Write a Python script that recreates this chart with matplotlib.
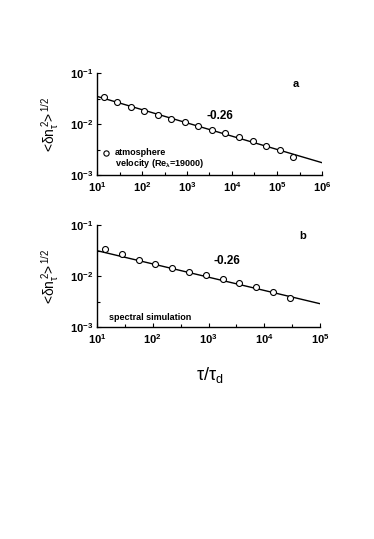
import numpy as np
import matplotlib
matplotlib.use("Agg")
import matplotlib.pyplot as plt
from matplotlib.ticker import FixedLocator, NullFormatter

plt.rcParams['font.family'] = ['Liberation Sans', 'DejaVu Sans']
plt.rcParams['mathtext.fontset'] = 'custom'
plt.rcParams['mathtext.rm'] = 'Liberation Sans'
plt.rcParams['mathtext.it'] = 'Liberation Sans'
plt.rcParams['mathtext.bf'] = 'Liberation Sans:bold'
plt.rcParams['mathtext.default'] = 'regular'
plt.rcParams['axes.unicode_minus'] = False

# Panel a: atmosphere data
xa = [14, 28, 56, 112, 224, 448, 896, 1792, 3584, 7168, 14336, 28672, 57344, 114688, 229376]
ya = [0.0338, 0.0266, 0.0215, 0.0177, 0.0148, 0.0125, 0.0108, 0.00914, 0.00775,
      0.00656, 0.00548, 0.00457, 0.00376, 0.00305, 0.00229]
# Panel b: spectral simulation
xb = [14, 28, 56, 112, 224, 448, 896, 1792, 3584, 7168, 14336, 28672]
yb = [0.0338, 0.0266, 0.0209, 0.0175, 0.0144, 0.0122, 0.0103, 0.00861, 0.00730,
      0.00600, 0.00493, 0.00371]
slope = -0.26
fit_a = (10, 1e6, 0.0348)   # x start, x end, y at start
fit_b = (10, 1e5, 0.0314)

fig = plt.figure(figsize=(3.74, 5.39), dpi=100)
W, H = 374, 539

def make_ax(px_left, px_right, px_top, px_bot):
    return fig.add_axes([px_left / W, 1 - px_bot / H, (px_right - px_left) / W, (px_bot - px_top) / H])

axa = make_ax(97, 322, 73, 175)
axb = make_ax(97, 320, 225, 327)

def style(ax, xmax_exp):
    ax.set_xscale('log')
    ax.set_yscale('log')
    ax.set_xlim(10, 10 ** xmax_exp)
    ax.set_ylim(1e-3, 1e-1)
    for s in ['top', 'right']:
        ax.spines[s].set_visible(False)
    for s in ['left', 'bottom']:
        ax.spines[s].set_linewidth(1.0)
    ax.xaxis.set_major_locator(FixedLocator([10.0 ** k for k in range(1, xmax_exp + 1)]))
    ax.xaxis.set_minor_locator(FixedLocator([10.0 ** (k + 0.5) for k in range(1, xmax_exp)]))
    ax.yaxis.set_major_locator(FixedLocator([1e-3, 1e-2, 1e-1]))
    ax.yaxis.set_minor_locator(FixedLocator([10 ** -2.5, 10 ** -1.5]))
    ax.xaxis.set_minor_formatter(NullFormatter())
    ax.yaxis.set_minor_formatter(NullFormatter())
    ax.tick_params(which='major', direction='in', length=3, width=0.8, labelsize=8)
    ax.tick_params(which='minor', direction='in', length=2, width=0.8)
    ax.tick_params(axis='y', pad=3)
    ax.tick_params(axis='x', pad=4)
    for lab in ax.get_xticklabels() + ax.get_yticklabels():
        lab.set_fontweight('bold')
    ax.set_ylabel(r'<$\delta$n$_\tau^{\,2}$>$^{\,1/2}$', fontsize=10)
    ax.yaxis.set_label_coords(-0.16, 0.5)

for ax, x, y, fit, xe in [(axa, xa, ya, fit_a, 6), (axb, xb, yb, fit_b, 5)]:
    style(ax, xe)
    xl = np.array([fit[0], fit[1]])
    ax.plot(xl, fit[2] * (xl / fit[0]) ** slope, color='black', lw=1.0, zorder=2)
    ax.plot(x, y, 'o', ms=4.3, mfc='white', mec='black', mew=0.8, zorder=3, clip_on=False)

axa.text(0.884, 0.89, 'a', transform=axa.transAxes, fontsize=8, fontweight='bold', ha='center', va='center')
axa.text(0.547, 0.578, '-0.26', transform=axa.transAxes, fontsize=8.5, fontweight='bold', ha='center', va='center')
axa.plot([0.042], [0.216], 'o', transform=axa.transAxes, ms=3.8, mfc='white', mec='black', mew=0.8)
axa.text(0.08, 0.216, 'atmosphere', transform=axa.transAxes, fontsize=6.5, fontweight='bold', ha='left', va='center')
axa.text(0.08, 0.115, r'velocity (Re$_\lambda$=19000)', transform=axa.transAxes, fontsize=6.5, fontweight='bold', ha='left', va='center')

axb.text(0.924, 0.89, 'b', transform=axb.transAxes, fontsize=8, fontweight='bold', ha='center', va='center')
axb.text(0.583, 0.647, '-0.26', transform=axb.transAxes, fontsize=8.5, fontweight='bold', ha='center', va='center')
axb.text(0.054, 0.098, 'spectral simulation', transform=axb.transAxes, fontsize=6.5, fontweight='bold', ha='left', va='center')

fig.text(210 / W, 1 - 375 / H, r'$\tau$/$\tau_d$', fontsize=13, ha='center', va='center')

fig.savefig('out.png', dpi=100)
